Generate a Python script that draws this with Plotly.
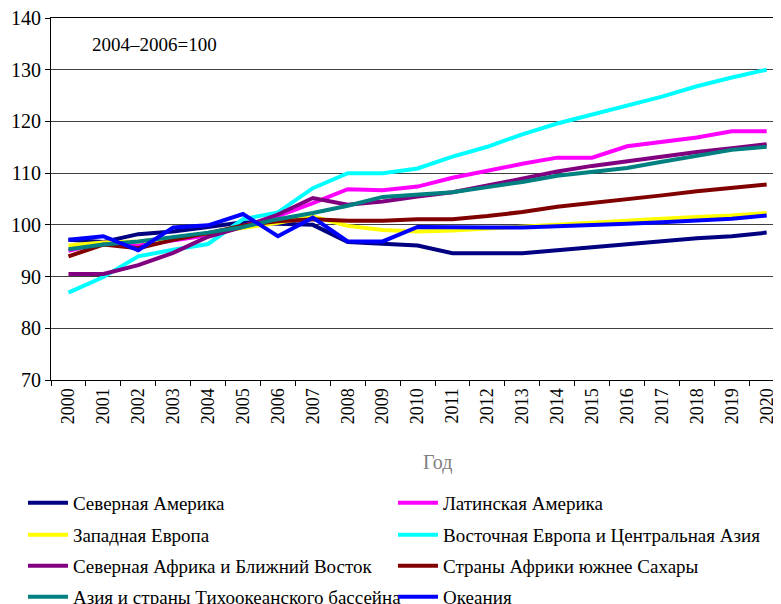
import plotly.graph_objects as go

years = [str(y) for y in range(2000, 2021)]

north_america = [97.1, 96.7, 98.2, 98.7, 99.6, 100.5, 100.2, 100.0, 96.7, 96.3, 96.0, 94.5, 94.5, 94.5, 95.1, 95.7, 96.2, 96.8, 97.4, 97.8, 98.5]
latin_america = [95.0, 96.6, 96.0, 97.0, 98.0, 99.8, 101.7, 104.2, 106.9, 106.7, 107.4, 109.1, 110.5, 111.8, 113.0, 113.0, 115.2, 116.0, 116.9, 118.1, 118.1]
western_europe = [96.0, 96.6, 96.8, 97.4, 98.4, 99.4, 100.4, 101.6, 99.8, 99.0, 98.7, 98.9, 99.3, 99.6, 100.0, 100.4, 100.8, 101.2, 101.5, 101.8, 102.3]
eastern_europe = [86.9, 89.9, 93.9, 95.2, 96.3, 101.1, 102.4, 107.1, 110.0, 110.0, 110.9, 113.2, 115.1, 117.5, 119.6, 121.3, 122.9, 124.8, 126.8, 128.5, 130.0]
north_africa = [90.5, 90.5, 92.2, 94.6, 97.7, 99.6, 102.0, 105.2, 103.9, 104.5, 105.5, 106.3, 107.6, 108.9, 110.3, 111.4, 112.3, 113.2, 114.1, 114.8, 115.6]
sub_saharan = [93.9, 96.2, 95.5, 97.1, 98.4, 99.9, 100.7, 101.1, 100.8, 100.8, 101.1, 101.1, 101.7, 102.5, 103.5, 104.2, 104.9, 105.7, 106.5, 107.2, 107.8]
asia_pacific = [95.3, 96.2, 96.8, 97.7, 98.5, 99.6, 101.1, 102.3, 103.7, 105.4, 105.9, 106.3, 107.3, 108.3, 109.5, 110.2, 111.0, 112.2, 113.3, 114.5, 115.1]
oceania = [97.1, 97.8, 95.1, 99.5, 99.9, 102.1, 97.8, 101.4, 96.8, 96.8, 99.6, 99.5, 99.5, 99.5, 99.7, 99.9, 100.2, 100.5, 100.8, 101.2, 101.8]

series_names = [
    "Северная Америка",
    "Латинская Америка",
    "Западная Европа",
    "Восточная Европа и Центральная Азия",
    "Северная Африка и Ближний Восток",
    "Страны Африки южнее Сахары",
    "Азия и страны Тихоокеанского бассейна",
    "Океания",
]
series_values = [north_america, latin_america, western_europe, eastern_europe,
                 north_africa, sub_saharan, asia_pacific, oceania]
series_colors = ["#000080", "#FF00FF", "#FFFF00", "#00FFFF",
                 "#800080", "#800000", "#008080", "#0000FF"]

font_family = "Liberation Serif, Times New Roman, serif"
legend_ids = ["legend", "legend2", "legend3", "legend4"]

fig = go.Figure()
for i, (name, vals, col) in enumerate(zip(series_names, series_values, series_colors)):
    fig.add_trace(go.Scatter(
        x=years, y=vals, name=name, mode="lines",
        line=dict(color=col, width=4),
        legend=legend_ids[i // 2],
    ))

# page body has an 8px margin, so the figure is 8px smaller and shifted
row_y = [-0.3398, -0.4282, -0.5138, -0.5994]
legend_common = dict(
    orientation="h", x=-0.0384, xanchor="left", yanchor="middle",
    entrywidth=315, entrywidthmode="pixels", itemwidth=40,
    font=dict(family=font_family, size=19, color="black"),
    bgcolor="rgba(0,0,0,0)",
)
legend_layout = {lid: dict(legend_common, y=yy) for lid, yy in zip(legend_ids, row_y)}

fig.update_layout(
    width=773, height=596,
    margin=dict(l=43, r=0, t=10, b=224, autoexpand=False),
    paper_bgcolor="white", plot_bgcolor="white",
    font=dict(family=font_family, size=19, color="black"),
    showlegend=True,
    annotations=[
        dict(text="2004–2006=100", x=0.0534, y=134.8, xref="paper", yref="y",
             xanchor="left", yanchor="middle", showarrow=False,
             font=dict(family=font_family, size=19, color="black")),
        dict(text="Год", x=0.53, y=-0.229, xref="paper", yref="paper",
             xanchor="center", yanchor="middle", showarrow=False,
             font=dict(family=font_family, size=20, color="#808080")),
    ],
    **legend_layout,
)

fig.update_xaxes(
    type="category", range=[-0.5, 20.41],
    showline=True, linecolor="black", linewidth=1, mirror=True,
    ticks="outside", ticklen=5, tickcolor="black", tickson="boundaries",
    tickangle=-90, showgrid=False,
    tickfont=dict(family=font_family, size=18, color="black"),
)
fig.update_yaxes(
    range=[70, 140], dtick=10,
    showline=True, linecolor="black", linewidth=1,
    ticks="outside", ticklen=5, tickcolor="black",
    showgrid=True, gridcolor="#404040", gridwidth=1, zeroline=False,
    ticklabeloverflow="allow",
    tickfont=dict(family=font_family, size=20, color="black"),
)

fig.write_html("out.html")
